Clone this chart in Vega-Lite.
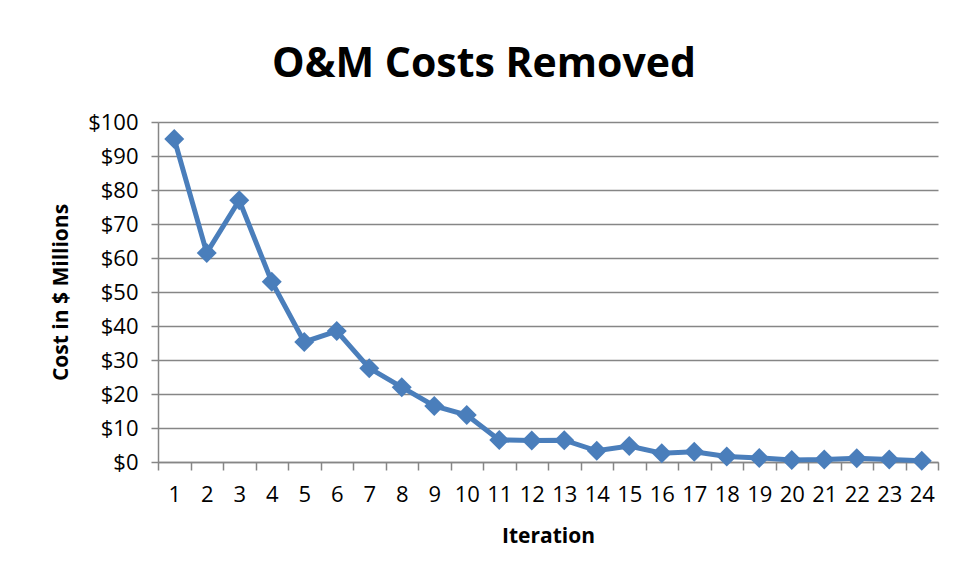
{
  "$schema": "https://vega.github.io/schema/vega-lite/v6.json",
  "width": 780,
  "height": 340,
  "autosize": {"type": "none"},
  "padding": {"left": 158, "top": 122, "right": 19, "bottom": 121},
  "background": "white",
  "title": {
    "text": "O&M Costs Removed",
    "font": "Open Sans",
    "fontSize": 41,
    "fontWeight": "bold",
    "color": "#000000",
    "anchor": "middle",
    "dx": -64,
    "offset": 25
  },
  "data": {
    "values": [
      {"iteration": 1, "cost": 95},
      {"iteration": 2, "cost": 61.5},
      {"iteration": 3, "cost": 77},
      {"iteration": 4, "cost": 53},
      {"iteration": 5, "cost": 35.3},
      {"iteration": 6, "cost": 38.5},
      {"iteration": 7, "cost": 27.6},
      {"iteration": 8, "cost": 22},
      {"iteration": 9, "cost": 16.5},
      {"iteration": 10, "cost": 13.8},
      {"iteration": 11, "cost": 6.5},
      {"iteration": 12, "cost": 6.3},
      {"iteration": 13, "cost": 6.4},
      {"iteration": 14, "cost": 3.3},
      {"iteration": 15, "cost": 4.7},
      {"iteration": 16, "cost": 2.6},
      {"iteration": 17, "cost": 3.0},
      {"iteration": 18, "cost": 1.6},
      {"iteration": 19, "cost": 1.2},
      {"iteration": 20, "cost": 0.6},
      {"iteration": 21, "cost": 0.7},
      {"iteration": 22, "cost": 1.1},
      {"iteration": 23, "cost": 0.7},
      {"iteration": 24, "cost": 0.4}
    ]
  },
  "encoding": {
    "x": {
      "field": "iteration",
      "type": "ordinal",
      "scale": {"type": "band", "paddingInner": 0, "paddingOuter": 0},
      "axis": {
        "title": "Iteration",
        "labelAngle": 0,
        "tickBand": "extent",
        "grid": false,
        "tickSize": 8,
        "labelPadding": 14,
        "titlePadding": 20
      }
    },
    "y": {
      "field": "cost",
      "type": "quantitative",
      "scale": {"domain": [0, 100], "nice": false},
      "axis": {
        "title": "Cost in $ Millions",
        "values": [0, 10, 20, 30, 40, 50, 60, 70, 80, 90, 100],
        "format": "$.0f",
        "grid": true,
        "tickSize": 7,
        "labelPadding": 13,
        "titlePadding": 16
      }
    }
  },
  "layer": [
    {
      "mark": {"type": "line", "color": "#4A7EBB", "strokeWidth": 5}
    },
    {
      "mark": {"type": "point", "shape": "diamond", "filled": true, "color": "#4A7EBB", "opacity": 1, "size": 400}
    }
  ],
  "config": {
    "view": {"stroke": null},
    "axis": {
      "labelFont": "Open Sans",
      "labelFontSize": 22,
      "labelColor": "#000000",
      "titleFont": "Open Sans",
      "titleFontSize": 21,
      "titleFontWeight": "bold",
      "titleColor": "#000000",
      "domainColor": "#868686",
      "domainWidth": 1.5,
      "tickColor": "#868686",
      "tickWidth": 1.5,
      "gridColor": "#868686",
      "gridWidth": 1.3
    }
  }
}
